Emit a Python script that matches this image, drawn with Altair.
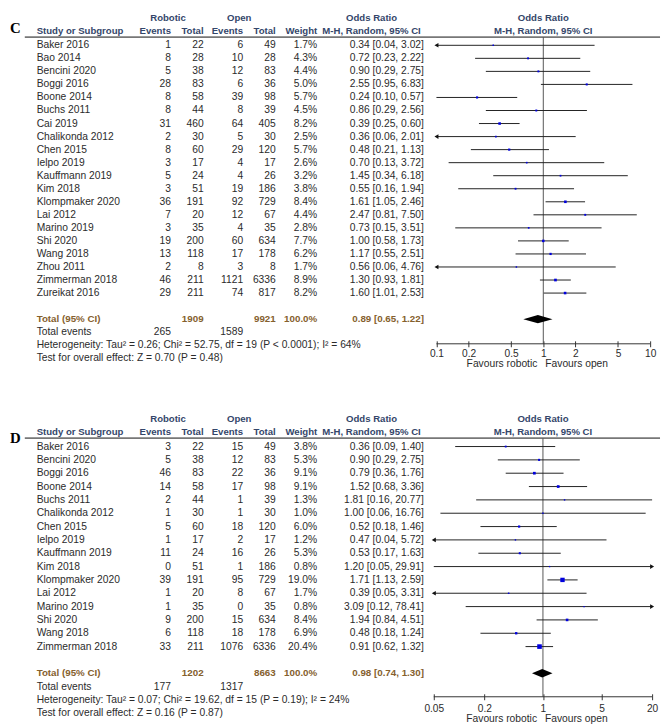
import altair as alt
import pandas as pd

FONT = "Liberation Sans"
SERIF = "Liberation Serif"
BODY = "#2b2b2b"
HEAD = "#34466a"
TOTC = "#85602d"
BLUE = "#0000dd"
FS = 10.4
HFS = 9.7

# ---------------- Panel C ----------------
c_study = ["Baker 2016", "Bao 2014", "Bencini 2020", "Boggi 2016", "Boone 2014", "Buchs 2011",
           "Cai 2019", "Chalikonda 2012", "Chen 2015", "Ielpo 2019", "Kauffmann 2019", "Kim 2018",
           "Klompmaker 2020", "Lai 2012", "Marino 2019", "Shi 2020", "Wang 2018", "Zhou 2011",
           "Zimmerman 2018", "Zureikat 2016"]
c_rob_events = [1, 8, 5, 28, 8, 8, 31, 2, 8, 3, 5, 3, 36, 7, 3, 19, 13, 2, 46, 29]
c_rob_total = [22, 28, 38, 83, 58, 44, 460, 30, 60, 17, 24, 51, 191, 20, 35, 200, 118, 8, 211, 211]
c_open_events = [6, 10, 12, 6, 39, 8, 64, 5, 29, 4, 4, 19, 92, 12, 4, 60, 17, 3, 1121, 74]
c_open_total = [49, 28, 83, 36, 98, 39, 405, 30, 120, 17, 26, 186, 729, 67, 35, 634, 178, 8, 6336, 817]
c_weight = [1.7, 4.3, 4.4, 5.0, 5.7, 4.5, 8.2, 2.5, 5.7, 2.6, 3.2, 3.8, 8.4, 4.4, 2.8, 7.7, 6.2, 1.7, 8.9, 8.2]
c_or = [0.34, 0.72, 0.90, 2.55, 0.24, 0.86, 0.39, 0.36, 0.48, 0.70, 1.45, 0.55, 1.61, 2.47, 0.73, 1.00, 1.17, 0.56, 1.30, 1.60]
c_lo = [0.04, 0.23, 0.29, 0.95, 0.10, 0.29, 0.25, 0.06, 0.21, 0.13, 0.34, 0.16, 1.05, 0.81, 0.15, 0.58, 0.55, 0.06, 0.93, 1.01]
c_hi = [3.02, 2.22, 2.75, 6.83, 0.57, 2.56, 0.60, 2.01, 1.13, 3.72, 6.18, 1.94, 2.46, 7.50, 3.51, 1.73, 2.51, 4.76, 1.81, 2.53]
c_total = [1909, 9921]
c_total_or = [0.89, 0.65, 1.22]
c_events = [265, 1589]
c_het = "Heterogeneity: Tau\u00b2 = 0.26; Chi\u00b2 = 52.75, df = 19 (P < 0.0001); I\u00b2 = 64%"
c_test = "Test for overall effect: Z = 0.70 (P = 0.48)"
c_ticks = [0.1, 0.2, 0.5, 1, 2, 5, 10]
c_arrow_left = ["Baker 2016", "Chalikonda 2012", "Zhou 2011"]
c_arrow_right = []

# ---------------- Panel D ----------------
d_study = ["Baker 2016", "Bencini 2020", "Boggi 2016", "Boone 2014", "Buchs 2011", "Chalikonda 2012",
           "Chen 2015", "Ielpo 2019", "Kauffmann 2019", "Kim 2018", "Klompmaker 2020", "Lai 2012",
           "Marino 2019", "Shi 2020", "Wang 2018", "Zimmerman 2018"]
d_rob_events = [3, 5, 46, 14, 2, 1, 5, 1, 11, 0, 39, 1, 1, 9, 6, 33]
d_rob_total = [22, 38, 83, 58, 44, 30, 60, 17, 24, 51, 191, 20, 35, 200, 118, 211]
d_open_events = [15, 12, 22, 17, 1, 1, 18, 2, 16, 1, 95, 8, 0, 15, 18, 1076]
d_open_total = [49, 83, 36, 98, 39, 30, 120, 17, 26, 186, 729, 67, 35, 634, 178, 6336]
d_weight = [3.8, 5.3, 9.1, 9.1, 1.3, 1.0, 6.0, 1.2, 5.3, 0.8, 19.0, 1.7, 0.8, 8.4, 6.9, 20.4]
d_or = [0.36, 0.90, 0.79, 1.52, 1.81, 1.00, 0.52, 0.47, 0.53, 1.20, 1.71, 0.39, 3.09, 1.94, 0.48, 0.91]
d_lo = [0.09, 0.29, 0.36, 0.68, 0.16, 0.06, 0.18, 0.04, 0.17, 0.05, 1.13, 0.05, 0.12, 0.84, 0.18, 0.62]
d_hi = [1.40, 2.75, 1.76, 3.36, 20.77, 16.76, 1.46, 5.72, 1.63, 29.91, 2.59, 3.31, 78.41, 4.51, 1.24, 1.32]
d_total = [1202, 8663]
d_total_or = [0.98, 0.74, 1.30]
d_events = [177, 1317]
d_het = "Heterogeneity: Tau\u00b2 = 0.07; Chi\u00b2 = 19.62, df = 15 (P = 0.19); I\u00b2 = 24%"
d_test = "Test for overall effect: Z = 0.16 (P = 0.87)"
d_ticks = [0.05, 0.2, 1, 5, 20]
d_arrow_left = ["Ielpo 2019", "Lai 2012"]
d_arrow_right = ["Kim 2018", "Marino 2019"]

hdr_group = ["Robotic", "Open"]
hdr_cols = ["Study or Subgroup", "Events", "Total", "Events", "Total", "Weight"]
hdr_or = ["Odds Ratio", "M-H, Random, 95% CI"]
fav = ["Favours robotic", "Favours open"]


def lab(row, s, x1=None):
    d = {"row": [row], "t": [s]}
    if x1 is not None:
        d["x1"] = [x1]
    return pd.DataFrame(d)


def panel(letter, letter_row, study, re, rt, oe, ot, w, orv, lo, hi, tot, tot_or, ev,
          het, test, ticks, xrange, row_px, top, axis_px, fav_px, label_pad,
          arrow_left, arrow_right):
    n = len(study)
    dmin, dmax = ticks[0], ticks[-1]
    df = pd.DataFrame({"study": study, "re": re, "rt": rt, "oe": oe, "ot": ot,
                       "w": w, "or": orv, "lo": lo, "hi": hi})
    df["row"] = list(range(n))
    df["wt"] = [f"{v:.1f}%" for v in w]
    df["ci"] = [f"{a:.2f} [{b:.2f}, {c:.2f}]" for a, b, c in zip(orv, lo, hi)]
    total_row = n + 1
    events_row = n + 2
    het_row = n + 3
    test_row = n + 4
    height = axis_px
    axis_row = axis_px / row_px + top
    fav_row = fav_px / row_px + top

    yscale = alt.Scale(domain=[top, axis_row], reverse=True, nice=False, zero=False)
    xscale = alt.Scale(type="log", domain=[dmin, dmax], range=xrange, nice=False)
    xaxis = alt.Axis(values=ticks, format="~g", domain=False, offset=-3, tickSize=6,
                     tickColor="#333", tickWidth=1, labelPadding=label_pad, labelFont=FONT,
                     labelFontSize=10.3, labelColor=BODY, grid=False, title=None,
                     labelFlush=False, labelOverlap=False)

    def X(f):
        return alt.X(f"{f}:Q", scale=xscale, axis=xaxis)

    def Y(f):
        return alt.Y(f"{f}:Q", scale=yscale, axis=None)

    def T(data, field, x, align="left", bold=False, color=BODY, size=FS, font=FONT):
        return alt.Chart(data).mark_text(
            align=align, baseline="middle", font=font, fontSize=size,
            fontWeight="bold" if bold else "normal", color=color
        ).encode(x=alt.value(x), y=Y("row"), text=f"{field}:N")

    layers = []
    # panel letter
    layers.append(T(lab(letter_row, letter), "t", 2, bold=True, color="#000", size=15, font=SERIF))
    # header
    layers.append(T(lab(-2.1, hdr_group[0]), "t", 162, "center", True, HEAD, HFS))
    layers.append(T(lab(-2.1, hdr_group[1]), "t", 234, "center", True, HEAD, HFS))
    layers.append(T(lab(-1.08, hdr_cols[0]), "t", 29, "left", True, HEAD, HFS))
    for s, x in zip(hdr_cols[1:], [165, 198, 238, 271, 313]):
        layers.append(T(lab(-1.08, s), "t", x, "right", True, HEAD, HFS))
    layers.append(T(lab(-2.1, hdr_or[0]), "t", 368, "center", True, HEAD, HFS))
    layers.append(T(lab(-1.08, hdr_or[1]), "t", 368, "center", True, HEAD, HFS))
    for r, s in zip([-2.1, -1.08], hdr_or):
        layers.append(alt.Chart(lab(r, s, 1)).mark_text(
            align="center", baseline="middle", font=FONT, fontSize=HFS, fontWeight="bold", color=HEAD
        ).encode(x=X("x1"), y=Y("row"), text="t:N"))
    # header line
    layers.append(alt.Chart(lab(-0.63, "")).mark_rule(color="#777", strokeWidth=1.8).encode(
        x=alt.value(17), x2=alt.value(660), y=Y("row")))

    # study rows
    layers.append(T(df, "study", 29))
    layers.append(T(df, "re", 165, "right"))
    layers.append(T(df, "rt", 198, "right"))
    layers.append(T(df, "oe", 238, "right"))
    layers.append(T(df, "ot", 271, "right"))
    layers.append(T(df, "wt", 313, "right"))
    layers.append(T(df, "ci", 421, "right"))

    # totals
    layers.append(T(lab(total_row, "Total (95% CI)"), "t", 29, "left", True, TOTC, HFS + 0.2))
    layers.append(T(lab(total_row, str(tot[0])), "t", 198, "right", True, TOTC, HFS + 0.2))
    layers.append(T(lab(total_row, str(tot[1])), "t", 271, "right", True, TOTC, HFS + 0.2))
    layers.append(T(lab(total_row, "100.0%"), "t", 313, "right", True, TOTC, HFS + 0.2))
    layers.append(T(lab(total_row, f"{tot_or[0]:.2f} [{tot_or[1]:.2f}, {tot_or[2]:.2f}]"),
                    "t", 421, "right", True, TOTC, HFS + 0.2))
    layers.append(T(lab(events_row, "Total events"), "t", 29))
    layers.append(T(lab(events_row, str(ev[0])), "t", 165, "right"))
    layers.append(T(lab(events_row, str(ev[1])), "t", 238, "right"))
    layers.append(T(lab(het_row, het), "t", 29))
    layers.append(T(lab(test_row, test), "t", 29))

    # forest: vertical line of no effect
    vdf = pd.DataFrame({"x1": [1], "row": [-0.63], "row2": [axis_row]})
    layers.append(alt.Chart(vdf).mark_rule(color="#555", strokeWidth=1).encode(
        x=X("x1"), y=Y("row"), y2="row2"))
    # axis line
    adf = pd.DataFrame({"x1": [dmin], "x2": [dmax], "row": [axis_row]})
    layers.append(alt.Chart(adf).mark_rule(color="#333", strokeWidth=1).encode(
        x=X("x1"), x2="x2", y=Y("row")))
    # CI lines
    layers.append(alt.Chart(df).transform_calculate(
        lo_c=f"max(datum.lo, {dmin})", hi_c=f"min(datum.hi, {dmax})"
    ).mark_rule(color="#222", strokeWidth=1).encode(x=X("lo_c"), x2="hi_c", y=Y("row")))
    # arrows
    if arrow_left:
        layers.append(alt.Chart(df).transform_filter(
            alt.FieldOneOfPredicate(field="study", oneOf=arrow_left)
        ).transform_calculate(xa=f"{dmin}").mark_point(
            shape="triangle-left", filled=True, size=22, color="#111", opacity=1
        ).encode(x=X("xa"), y=Y("row")))
    if arrow_right:
        layers.append(alt.Chart(df).transform_filter(
            alt.FieldOneOfPredicate(field="study", oneOf=arrow_right)
        ).transform_calculate(xa=f"{dmax}").mark_point(
            shape="triangle-right", filled=True, size=22, color="#111", opacity=1
        ).encode(x=X("xa"), y=Y("row")))
    # squares
    layers.append(alt.Chart(df).transform_calculate(
        sz="pow(1.2 + 0.17 * datum.w, 2)"
    ).mark_square(filled=True, color=BLUE, opacity=1, strokeWidth=0).encode(
        x=X("or"), y=Y("row"), size=alt.Size("sz:Q", scale=None)))
    # diamond
    ddf = pd.DataFrame({"x": [tot_or[1], tot_or[0], tot_or[2]], "h": [0, 1, 0]})
    half = 4.2 / row_px
    layers.append(alt.Chart(ddf).transform_calculate(
        y1=f"{total_row} - {half} * datum.h", y2=f"{total_row} + {half} * datum.h"
    ).mark_area(color="#000", orient="vertical", opacity=1).encode(
        x=X("x"), y=Y("y1"), y2="y2"))
    # favours labels
    layers.append(alt.Chart(lab(fav_row, fav[0], 1)).mark_text(
        align="right", baseline="middle", font=FONT, fontSize=FS, color=BODY, dx=-6
    ).encode(x=X("x1"), y=Y("row"), text="t:N"))
    layers.append(alt.Chart(lab(fav_row, fav[1], 1)).mark_text(
        align="left", baseline="middle", font=FONT, fontSize=FS, color=BODY, dx=2
    ).encode(x=X("x1"), y=Y("row"), text="t:N"))

    return alt.layer(*layers).properties(width=660, height=height)


# panel C: compressed rows so it fits under the page margin
ROW_C, TOP_C = 13.2, -2.45
ROW_D, TOP_D = 13.5, -2.44
axis_c_px = 342.5 - 8
axis_d_px = (699.3 - 8) - (438 + TOP_D * ROW_D)

pc = panel("C", -1.32, c_study, c_rob_events, c_rob_total, c_open_events, c_open_total, c_weight,
           c_or, c_lo, c_hi, c_total, c_total_or, c_events, c_het, c_test, c_ticks,
           [433.7, 650.0], ROW_C, TOP_C, axis_c_px, 363 - 8, 2.3, c_arrow_left, c_arrow_right)
pdp = panel("D", -0.6, d_study, d_rob_events, d_rob_total, d_open_events, d_open_total, d_weight,
            d_or, d_lo, d_hi, d_total, d_total_or, d_events, d_het, d_test, d_ticks,
            [431.0, 652.0], ROW_D, TOP_D, axis_d_px, (722 - 8) - (438 + TOP_D * ROW_D), 4.3,
            d_arrow_left, d_arrow_right)

spacing = (438 + TOP_D * ROW_D) - axis_c_px

chart = alt.vconcat(pc, pdp, spacing=spacing, bounds="flush").properties(
    padding=0
).configure_view(stroke=None)

chart.save("out.html", embed_options={"renderer": "svg", "actions": False})
